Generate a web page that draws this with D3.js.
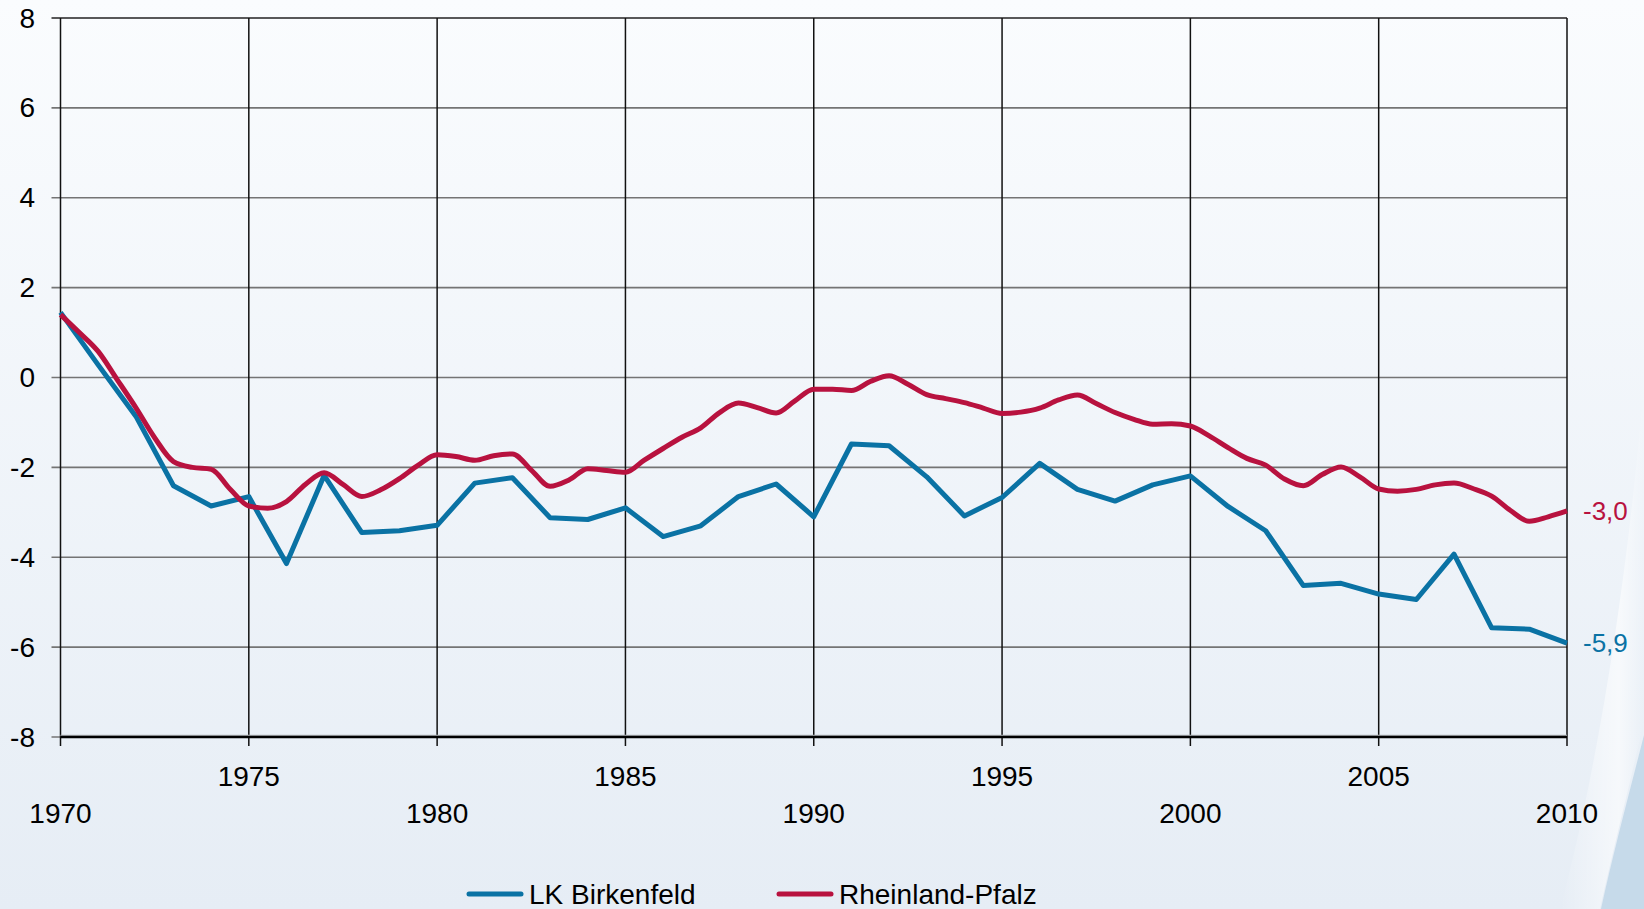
<!DOCTYPE html>
<html>
<head>
<meta charset="utf-8">
<script src="https://cdn.jsdelivr.net/npm/d3@7"></script>
<style>
  html, body { margin: 0; padding: 0; overflow: hidden; }
  body { width: 1644px; height: 909px; }
  text { font-family: "Liberation Sans", Arial, sans-serif; }
</style>
</head>
<body>
<svg id="chart"></svg>
<script>
// Jahreswerte LK Birkenfeld
const years = [1970, 1971, 1972, 1973, 1974, 1975, 1976, 1977, 1978, 1979,
               1980, 1981, 1982, 1983, 1984, 1985, 1986, 1987, 1988, 1989,
               1990, 1991, 1992, 1993, 1994, 1995, 1996, 1997, 1998, 1999,
               2000, 2001, 2002, 2003, 2004, 2005, 2006, 2007, 2008, 2009, 2010];
const birkenfeld = [1.45, 0.28, -0.86, -2.41, -2.86, -2.65, -4.14, -2.18, -3.45, -3.41,
                    -3.29, -2.35, -2.23, -3.12, -3.16, -2.90, -3.54, -3.30, -2.65, -2.37,
                    -3.10, -1.48, -1.52, -2.21, -3.08, -2.67, -1.91, -2.49, -2.75, -2.39,
                    -2.19, -2.87, -3.41, -4.63, -4.58, -4.82, -4.94, -3.93, -5.57, -5.60, -5.91];

const rlpTime = [1970, 1970.5, 1971, 1971.5, 1972, 1972.5, 1973, 1973.5, 1974, 1974.5,
                 1975, 1975.5, 1976, 1976.5, 1977, 1977.5, 1978, 1978.5, 1979, 1979.5,
                 1980, 1980.5, 1981, 1981.5, 1982, 1982.5, 1983, 1983.5, 1984, 1984.5,
                 1985, 1985.5, 1986, 1986.5, 1987, 1987.5, 1988, 1988.5, 1989, 1989.5,
                 1990, 1990.5, 1991, 1991.5, 1992, 1992.5, 1993, 1993.5, 1994, 1994.5,
                 1995, 1995.5, 1996, 1996.5, 1997, 1997.5, 1998, 1998.5, 1999, 1999.5,
                 2000, 2000.5, 2001, 2001.5, 2002, 2002.5, 2003, 2003.5, 2004, 2004.5,
                 2005, 2005.5, 2006, 2006.5, 2007, 2007.5, 2008, 2008.5, 2009, 2009.5, 2010];
const rlp = [1.40, 1.00, 0.58, -0.04, -0.67, -1.34, -1.87, -2.00, -2.04, -2.48,
             -2.86, -2.91, -2.76, -2.38, -2.12, -2.38, -2.65, -2.50, -2.25, -1.95,
             -1.72, -1.76, -1.84, -1.74, -1.70, -2.06, -2.42, -2.28, -2.03, -2.07,
             -2.11, -1.84, -1.58, -1.33, -1.12, -0.78, -0.57, -0.67, -0.79, -0.52,
             -0.26, -0.26, -0.29, -0.09, 0.04, -0.15, -0.38, -0.47, -0.56, -0.68,
             -0.80, -0.77, -0.68, -0.50, -0.39, -0.58, -0.78, -0.93, -1.04, -1.03,
             -1.08, -1.30, -1.56, -1.80, -1.95, -2.26, -2.41, -2.16, -1.99, -2.21,
             -2.48, -2.53, -2.49, -2.39, -2.35, -2.47, -2.64, -2.96, -3.20, -3.10, -2.97];

const yTicks = [-8, -6, -4, -2, 0, 2, 4, 6, 8];
const xTicksUpper = [1975, 1985, 1995, 2005];
const xTicksLower = [1970, 1980, 1990, 2000, 2010];
const endLabels = ["-5,9", "-3,0"];
const seriesNames = ["LK Birkenfeld", "Rheinland-Pfalz"];
const colors = ["#0a72a4", "#b8123f"];

const W = 1644, H = 909;
const svg = d3.select("#chart").attr("width", W).attr("height", H);

// Hintergrund
const defs = svg.append("defs");
const bg = defs.append("linearGradient").attr("id", "bg")
    .attr("x1", 0).attr("y1", 0).attr("x2", 0).attr("y2", 1);
bg.append("stop").attr("offset", "0%").attr("stop-color", "#fafcfe");
bg.append("stop").attr("offset", "100%").attr("stop-color", "#e6edf5");
const sw = defs.append("linearGradient").attr("id", "swoosh")
    .attr("x1", 0).attr("y1", 0).attr("x2", 1).attr("y2", 0);
sw.append("stop").attr("offset", "0%").attr("stop-color", "#ffffff").attr("stop-opacity", 0);
sw.append("stop").attr("offset", "70%").attr("stop-color", "#ffffff").attr("stop-opacity", 0.6);
sw.append("stop").attr("offset", "100%").attr("stop-color", "#ffffff").attr("stop-opacity", 0);

svg.append("rect").attr("width", W).attr("height", H).attr("fill", "url(#bg)");
svg.append("path")
    .attr("d", "M1644,380 C1630,560 1600,760 1560,909 L1600,909 C1620,820 1636,760 1644,720 Z")
    .attr("fill", "url(#swoosh)");
svg.append("path")
    .attr("d", "M1644,735 C1630,790 1614,850 1601,909 L1644,909 Z")
    .attr("fill", "#c6daea");

const x = d3.scaleLinear().domain([1970, 2010]).range([60.5, 1567]);
const y = d3.scaleLinear().domain([-8, 8]).range([737, 18]);

// Gitter
const grid = svg.append("g");
grid.selectAll(".hgrid")
    .data(yTicks)
    .enter().append("line")
    .attr("x1", x(1970) - 9).attr("x2", x(2010))
    .attr("y1", d => y(d)).attr("y2", d => y(d))
    .attr("stroke", d => d === 8 ? "#222" : "#747474")
    .attr("stroke-width", 1.6);

grid.selectAll(".vgrid")
    .data(xTicksUpper.concat(xTicksLower))
    .enter().append("line")
    .attr("x1", d => x(d)).attr("x2", d => x(d))
    .attr("y1", y(8)).attr("y2", y(-8) + 9)
    .attr("stroke", "#111")
    .attr("stroke-width", 1.5);

// x-Achse
svg.append("line")
    .attr("x1", x(1970)).attr("x2", x(2010))
    .attr("y1", y(-8) - 1.5).attr("y2", y(-8) - 1.5)
    .attr("stroke", "#b5b9bd").attr("stroke-width", 1.5);
svg.append("line")
    .attr("x1", x(1970)).attr("x2", x(2010))
    .attr("y1", y(-8)).attr("y2", y(-8))
    .attr("stroke", "#000").attr("stroke-width", 2.5);

// Achsenbeschriftung
svg.append("g").selectAll("text")
    .data(yTicks)
    .enter().append("text")
    .attr("x", 35)
    .attr("y", d => y(d))
    .attr("text-anchor", "end")
    .attr("dominant-baseline", "central")
    .style("font-size", "28px")
    .attr("fill", "#000")
    .text(d => d);

svg.append("g").selectAll("text")
    .data(xTicksUpper)
    .enter().append("text")
    .attr("x", d => x(d))
    .attr("y", 786)
    .attr("text-anchor", "middle")
    .style("font-size", "28px")
    .text(d => d);

svg.append("g").selectAll("text")
    .data(xTicksLower)
    .enter().append("text")
    .attr("x", d => x(d))
    .attr("y", 823)
    .attr("text-anchor", "middle")
    .style("font-size", "28px")
    .text(d => d);

// Linien
const blueData = years.map((yr, i) => ({ t: yr, v: birkenfeld[i] }));
const redData = rlpTime.map((t, i) => ({ t: t, v: rlp[i] }));

const straight = d3.line().x(d => x(d.t)).y(d => y(d.v));
const smooth = d3.line().x(d => x(d.t)).y(d => y(d.v)).curve(d3.curveMonotoneX);

svg.append("path")
    .datum(blueData)
    .attr("d", straight)
    .attr("fill", "none")
    .attr("stroke", colors[0])
    .attr("stroke-width", 5)
    .attr("stroke-linejoin", "round");

svg.append("path")
    .datum(redData)
    .attr("d", smooth)
    .attr("fill", "none")
    .attr("stroke", colors[1])
    .attr("stroke-width", 5)
    .attr("stroke-linejoin", "round");

// Endwerte
const lastVals = [blueData[blueData.length - 1], redData[redData.length - 1]];
svg.append("g").selectAll("text")
    .data(lastVals)
    .enter().append("text")
    .attr("x", x(2010) + 16)
    .attr("y", d => y(d.v))
    .attr("dominant-baseline", "central")
    .style("font-size", "26px")
    .attr("fill", (d, i) => colors[i])
    .text((d, i) => endLabels[i]);

// Legende
const legendX = [469, 779];
const legend = svg.append("g");
legend.selectAll("line")
    .data(seriesNames)
    .enter().append("line")
    .attr("x1", (d, i) => legendX[i]).attr("x2", (d, i) => legendX[i] + 52)
    .attr("y1", 894).attr("y2", 894)
    .attr("stroke", (d, i) => colors[i])
    .attr("stroke-width", 5)
    .attr("stroke-linecap", "round");
legend.selectAll("text")
    .data(seriesNames)
    .enter().append("text")
    .attr("x", (d, i) => legendX[i] + 60)
    .attr("y", 904)
    .style("font-size", "28px")
    .attr("fill", "#000")
    .text(d => d);
</script>
</body>
</html>
